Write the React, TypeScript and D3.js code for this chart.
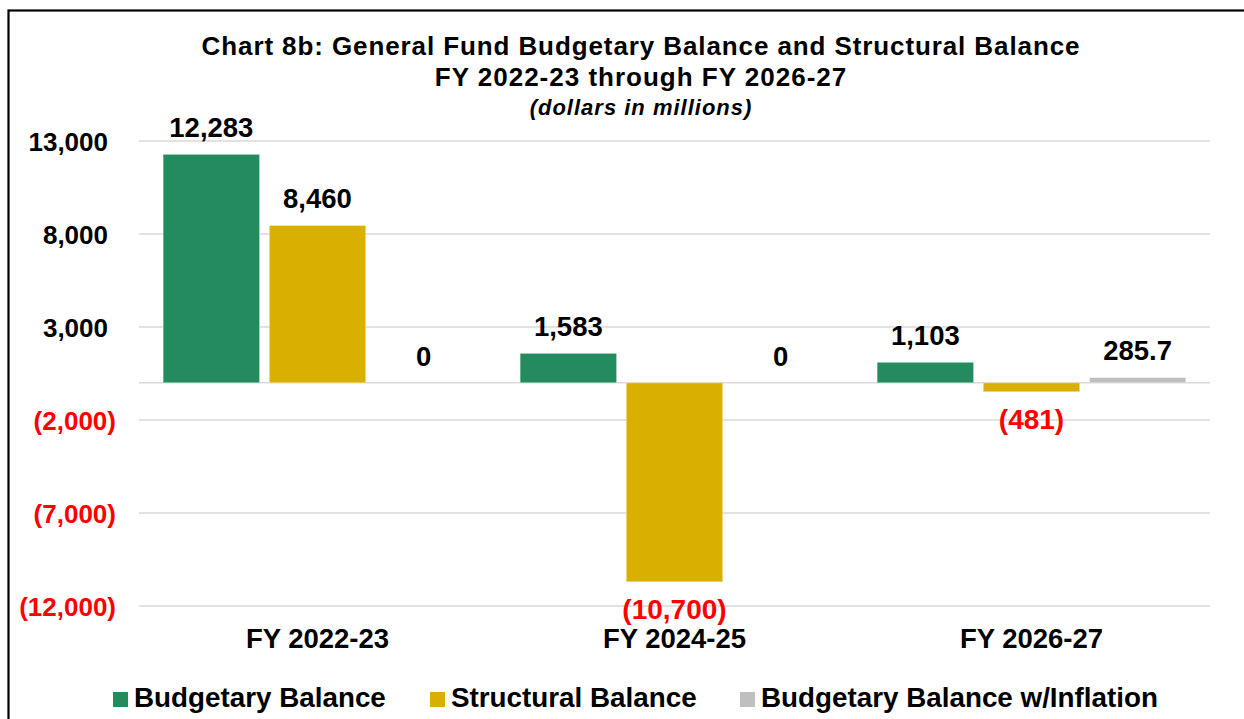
import React from "react";
import * as d3 from "d3";

const categories = ["FY 2022-23", "FY 2024-25", "FY 2026-27"];
const budgetaryBalance = [12283, 1583, 1103];
const structuralBalance = [8460, -10700, -481];
const inflationBalance = [0, 0, 285.7];
const seriesNames = ["Budgetary Balance", "Structural Balance", "Budgetary Balance w/Inflation"];
const seriesColors = ["#248B5E", "#D9B000", "#BFBFBF"];
const yTicks = [-12000, -7000, -2000, 3000, 8000, 13000];
const titleLines = [
  "Chart 8b: General Fund Budgetary Balance and Structural Balance",
  "FY 2022-23 through FY 2026-27",
];
const subtitle = "(dollars in millions)";

const W = 1244;
const H = 719;
const FONT = "'Liberation Sans', Arial, sans-serif";

const fmtNum = d3.format(",");
const fmtVal = (v: number) => (v < 0 ? `(${fmtNum(-v)})` : fmtNum(v));

export default function App() {
  const series = [budgetaryBalance, structuralBalance, inflationBalance];
  const x = d3.scaleBand<string>().domain(categories).range([139, 1210]).padding(0);
  const y = d3.scaleLinear().domain([-12000, 13000]).range([606, 141]);
  const catW = x.bandwidth();
  const barW = catW / 3.7;
  const gapIn = barW * 0.1;
  const outer = barW * 0.25;
  const y0 = y(0);

  const legendX = [113, 430, 740];

  return (
    <svg
      width={W}
      height={H}
      style={{ position: "absolute", left: 0, top: 0, background: "#fff" }}
      fontFamily={FONT}
    >
      <rect x={0} y={0} width={W} height={H} fill="#fff" />
      <rect x={8.5} y={10.5} width={W + 20} height={H + 20} fill="none" stroke="#000" strokeWidth={2.2} />

      {/* Title */}
      <text x={641} y={55} textAnchor="middle" fontSize={26} letterSpacing={0.9} fontWeight="bold" fill="#000">
        {titleLines[0]}
      </text>
      <text x={641} y={86} textAnchor="middle" fontSize={26} letterSpacing={1} fontWeight="bold" fill="#000">
        {titleLines[1]}
      </text>
      <text x={641} y={115} textAnchor="middle" fontSize={22} letterSpacing={1} fontWeight="bold" fontStyle="italic" fill="#000">
        {subtitle}
      </text>

      {/* Gridlines */}
      {yTicks.map((t) => (
        <line key={t} x1={139} x2={1210} y1={y(t)} y2={y(t)} stroke="#D9D9D9" strokeWidth={1.5} />
      ))}
      <line x1={139} x2={1210} y1={y0} y2={y0} stroke="#D9D9D9" strokeWidth={1.5} />

      {/* Y tick labels */}
      {yTicks.map((t) => (
        <text
          key={"l" + t}
          x={t < 0 ? 116 : 108}
          y={y(t) + 9.5}
          textAnchor="end"
          fontSize={26}
          fontWeight="bold"
          fill={t < 0 ? "#FF0000" : "#000"}
        >
          {fmtVal(t)}
        </text>
      ))}

      {/* Bars */}
      {categories.map((c, ci) =>
        series.map((s, si) => {
          const v = s[ci];
          const bx = (x(c) as number) + outer + si * (barW + gapIn);
          const top = Math.min(y(v), y0);
          const h = Math.abs(y(v) - y0);
          return (
            <rect
              key={c + si}
              x={bx}
              y={top}
              width={barW}
              height={h}
              fill={seriesColors[si]}
              stroke="#ffffff"
              strokeOpacity={0.4}
              strokeWidth={1}
            />
          );
        })
      )}

      {/* Value labels */}
      {categories.map((c, ci) =>
        series.map((s, si) => {
          const v = s[ci];
          const cx = (x(c) as number) + outer + si * (barW + gapIn) + barW / 2;
          const ly = v < 0 ? y(v) + 37 : y(v) - 17;
          return (
            <text
              key={"v" + c + si}
              x={cx}
              y={ly}
              textAnchor="middle"
              fontSize={v < 0 ? 28 : 27.5}
              fontWeight="bold"
              fill={v < 0 ? "#FF0000" : "#000"}
            >
              {fmtVal(v)}
            </text>
          );
        })
      )}

      {/* Category labels */}
      {categories.map((c) => (
        <text
          key={"c" + c}
          x={(x(c) as number) + catW / 2}
          y={648}
          textAnchor="middle"
          fontSize={27.5}
          fontWeight="bold"
          fill="#000"
        >
          {c}
        </text>
      ))}

      {/* Legend */}
      {seriesNames.map((n, i) => (
        <g key={"lg" + n}>
          <rect x={legendX[i]} y={692} width={15} height={15} fill={seriesColors[i]} />
          <text x={legendX[i] + 21} y={707} fontSize={27.8} fontWeight="bold" fill="#000">
            {n}
          </text>
        </g>
      ))}
    </svg>
  );
}
